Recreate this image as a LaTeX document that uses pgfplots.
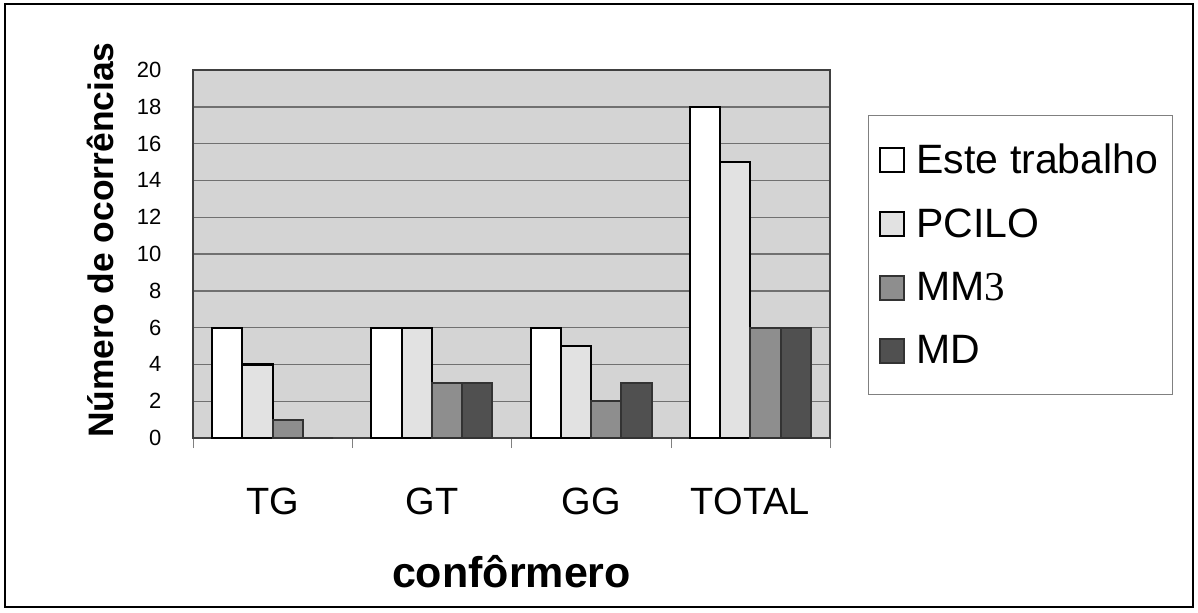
\documentclass[border=0pt]{standalone}
\usepackage{fontspec}
\setmainfont{Liberation Sans}
\newfontfamily\serifthree{Liberation Serif}
\usepackage{pgfplots}
\pgfplotsset{compat=1.18}
\definecolor{plotbg}{HTML}{D4D4D4}
\definecolor{cpcilo}{HTML}{E2E2E2}
\definecolor{cmm}{HTML}{8E8E8E}
\definecolor{cmd}{HTML}{505050}
\definecolor{gridc}{HTML}{707070}
\pgfplotsset{squarelegend/.style={legend image code/.code={\draw[##1,line width=0.9pt] (0pt,-6pt) rectangle (12pt,6pt);}}}
\begin{document}
\begin{tikzpicture}
\useasboundingbox (0pt,0pt) rectangle (599pt,306pt);
\draw[line width=1.2pt] (2.5pt,2.5pt) rectangle (596.5pt,304pt);
\begin{axis}[
  at={(96.5pt,87pt)}, anchor=south west,
  scale only axis, width=318.5pt, height=184pt,
  ybar=0pt, bar width=0.19,
  xmin=-0.5, xmax=3.5, ymin=0, ymax=20,
  ytick={0,2,...,20},
  xtick={0,1,2,3}, xticklabels={TG,GT,GG,TOTAL},
  minor xtick={-0.5,0.5,1.5,2.5,3.5},
  xtick pos=bottom,
  major x tick style={draw=none},
  minor tick length=5pt,
  tick align=outside,
  ytick style={draw=none},
  axis background/.style={fill=plotbg},
  ymajorgrids, grid style={gridc, line width=0.7pt},
  axis line style={draw=black!75, line width=0.9pt},
  /pgf/number format/assume math mode=true,
  yticklabel style={font=\fontsize{11}{12}\selectfont, xshift=-8pt},
  xticklabel style={font=\fontsize{19}{22}\selectfont, yshift=-17pt},
  legend style={draw=gray, fill=white, line width=0.6pt,
    font=\fontsize{20.5}{24}\selectfont,
    at={(1.06,0.497)}, anchor=west,
    row sep=12pt, column sep=4pt, inner xsep=5pt, inner ysep=12pt},
  legend cell align=left,
  clip=false,
]
\addplot[fill=white, draw=black, line width=1.1pt, squarelegend] coordinates {(0,6) (1,6) (2,6) (3,18)};
\addplot[fill=cpcilo, draw=black, line width=1.1pt, squarelegend] coordinates {(0,4) (1,6) (2,5) (3,15)};
\addplot[fill=cmm, draw=black!80, line width=1.1pt, squarelegend] coordinates {(0,1) (1,3) (2,2) (3,6)};
\addplot[fill=cmd, draw=black!80, line width=1.1pt, squarelegend] coordinates {(0,0) (1,3) (2,3) (3,6)};
\addlegendentry{Este trabalho}
\addlegendentry{PCILO}
\addlegendentry{MM{\serifthree 3}}
\addlegendentry{MD}
\node[font=\bfseries\fontsize{21.5}{24}\selectfont] at (axis description cs:0.5,-0.364) {confôrmero};
\node[font=\bfseries\fontsize{17.7}{20}\selectfont, rotate=90] at (axis description cs:-0.146,0.538) {Número de ocorrências};
\end{axis}
\end{tikzpicture}
\end{document}
